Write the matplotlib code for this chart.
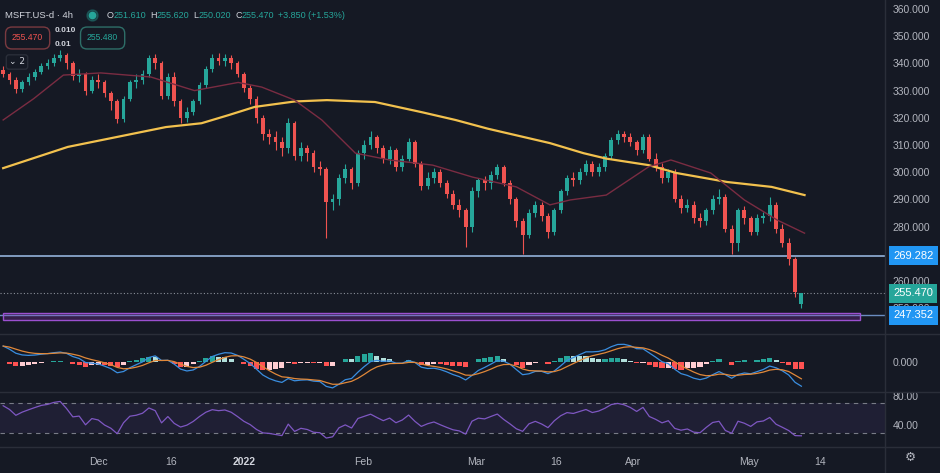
import numpy as np
import matplotlib.pyplot as plt
from matplotlib.patches import Rectangle
from matplotlib.lines import Line2D

# candles (one bar here ~ one trading day)
opens = [337.5, 336, 334, 330.5, 333, 335, 337, 339, 340, 342,
         343, 340, 335.5, 336, 330, 334, 333, 329, 326, 319.5,
         327, 333, 334, 336, 342, 340, 328, 335, 326, 320,
         322, 326, 332, 338, 342, 341, 342, 340, 336, 331,
         327, 320, 314, 313, 311, 309, 318, 306, 309, 307,
         302, 301, 289, 290, 298, 301, 296, 307, 310, 313,
         309, 305, 308, 302, 305, 311, 303, 295, 298, 300,
         296, 292, 288, 286, 280, 293, 297, 296, 299, 302,
         296, 290, 282, 277, 285, 288, 284, 278, 286, 293,
         298, 297, 300, 303, 300, 302, 306, 312, 314, 313,
         311, 308, 313, 305, 302, 298, 300, 290, 287, 288,
         283, 282, 286, 290, 291, 279, 274, 286, 283, 278,
         283, 284, 288, 279, 274, 268, 251.61]
closes = [336, 334, 330.5, 333, 335, 337, 339, 340, 342, 343,
          340, 335.5, 336, 330, 334, 333, 329, 326, 319.5, 327,
          333, 334, 336, 342, 340, 328, 335, 326, 320, 322,
          326, 332, 338, 342, 341, 342, 340, 336, 331, 327,
          320, 314, 313, 311, 309, 318, 306, 309, 307, 302,
          301, 289, 290, 298, 301, 296, 307, 310, 313, 309,
          305, 308, 302, 305, 311, 303, 295, 298, 300, 296,
          292, 288, 286, 280, 293, 297, 296, 299, 302, 296,
          290, 282, 277, 285, 288, 284, 278, 286, 293, 298,
          297, 300, 303, 300, 302, 306, 312, 314, 313, 311,
          308, 313, 305, 302, 298, 300, 290, 287, 288, 283,
          282, 286, 290, 291, 279, 274, 286, 283, 278, 283,
          284, 288, 279, 274, 268, 256, 255.47]
highs = [339, 337, 335, 334, 336.5, 338, 340, 341.5, 343.5, 345,
         344, 341, 338, 337, 335.5, 336, 334, 330, 327, 328,
         334, 336, 337.5, 343, 343.5, 341, 336.5, 337, 327, 324,
         327, 333, 339, 343.5, 344, 343.5, 343, 341, 337, 332,
         328, 321, 316, 315, 313, 320, 319, 311, 310, 308,
         304, 302, 292, 299.5, 303, 302, 308, 312, 315, 313.5,
         310, 309.5, 309, 306.5, 312.5, 312, 304, 300, 301.5, 301,
         297, 293.5, 290, 287, 294.5, 298, 298.5, 300.5, 303, 302.5,
         297, 291, 283, 286.5, 289.5, 289, 285, 287, 294, 299,
         300, 301.5, 304.5, 304, 303.5, 307, 313, 315.5, 315, 314.5,
         312, 314, 314, 307, 303.5, 301, 301, 291.5, 290, 289.5,
         285, 287, 291.5, 294, 292, 280.5, 287, 287.5, 284, 284.5,
         285.5, 291, 289, 281, 276, 269, 255.62]
lows = [335, 332.5, 329, 329.5, 332, 334, 336, 338, 339, 341,
        338, 334, 333, 328.5, 329, 331, 327.5, 323, 318, 318.5,
        326, 331, 332.5, 335, 338, 327, 327, 324.5, 318, 318.5,
        321, 325, 331, 337, 339.5, 339, 338, 335, 329.5, 325,
        318, 312, 310.5, 308, 306, 307, 304.5, 304, 304, 300,
        299, 276, 286, 288, 296, 294, 295, 305, 308.5, 307,
        303.5, 303, 300.5, 300.5, 304, 302, 293.5, 294, 296, 294.5,
        290.5, 286.5, 283.5, 272.5, 278, 291, 293.5, 294, 297.5, 295,
        288.5, 280, 270, 276, 283.5, 282, 276, 277, 285, 291.5,
        295, 295.5, 299, 298.5, 298.5, 300.5, 305, 310.5, 311, 309.5,
        306.5, 307, 304, 300.5, 296, 296.5, 289, 285, 285.5, 281.5,
        280, 280.5, 284.5, 288.5, 278, 270, 271, 281, 277, 277,
        281.5, 282, 277.5, 272.5, 266, 254, 250.02]

# moving averages, read at a few bars
ma200_idx = [0, 10.2, 25.7, 31.3, 35.6, 39.7, 46, 51.1, 58.7, 66.2,
             71.4, 76.5, 86.3, 91.6, 95.2, 101.9, 106.3, 114.3, 121.3, 126.5]
ma200_val = [301.5, 309.3, 316.6, 318, 321, 324, 326, 326.5, 325.8, 322,
             319.2, 316, 310.7, 307, 305, 302.6, 299.7, 296.4, 294.6, 291.6]
ma50_idx = [0, 4.8, 9.5, 15.4, 23.3, 30.2, 37.1, 40.8, 46, 50.3, 55.6, 61,
            67.8, 74.1, 81, 86.3, 89.5, 95.2, 101.9, 105.4, 111.7, 117, 122.2, 126.5]
ma50_val = [319.2, 327, 335.7, 336.5, 335, 330, 333, 331.3, 326.5, 319.2, 307, 304.5,
            302.6, 298.2, 294.6, 288, 289.8, 291.6, 302, 304.5, 299.7, 289.8, 282.4, 277.6]

date_labels = ["Dec", "16", "2022", "Feb", "Mar", "16", "Apr", "May", "14"]
date_idx = [15.1, 26.5, 38.1, 56.8, 74.6, 87.3, 99.5, 117.8, 129.0]
# 270 sits behind the 269.282 label, so the axis does not print it
price_ticks = [250, 260, 280, 290, 300, 310, 320, 330, 340, 350, 360]

resistance = 269.282
support = 247.352
last_price = 255.470
zone_low, zone_high = 245.7, 248.4

# state of the indicators at the first bar (history before the visible range)
ema_fast0, ema_slow0 = 336.0, 330.0
rsi_gain0, rsi_loss0 = 2.0, 1.0

bg = "#151924"
sep = "#2a2e39"
txt = "#b2b5be"
up, down = "#26a69a", "#ef5350"
plt.rcParams["font.family"] = ["Liberation Sans", "DejaVu Sans"]


def ema(values, span, start):
    a = 2 / (span + 1)
    out, e = [], start
    for v in values:
        e = a * v + (1 - a) * e
        out.append(e)
    return np.array(out)


closes_a = np.array(closes)
macd = ema(closes_a, 6, ema_fast0) - ema(closes_a, 13, ema_slow0)
signal = ema(macd, 5, macd[0])
hist = macd - signal

rsi = []
g, l = rsi_gain0, rsi_loss0
prev = closes[0]
for cl in closes:
    d = cl - prev
    prev = cl
    g = (g * 9 + max(d, 0)) / 10
    l = (l * 9 + max(-d, 0)) / 10
    rsi.append(100 - 100 / (1 + g / l))

W, H = 940, 473
fig = plt.figure(figsize=(W / 100, H / 100), dpi=100)
fig.patch.set_facecolor(bg)

right = 885 / W
ax1 = fig.add_axes([0, 1 - 333 / H, right, 333 / H])
ax2 = fig.add_axes([0, 1 - 391 / H, right, 56 / H])
ax3 = fig.add_axes([0, 1 - 446 / H, right, 54 / H])

n = len(closes)
x = np.arange(n)
for ax in (ax1, ax2, ax3):
    ax.set_facecolor(bg)
    ax.set_xlim(-0.5, 139.2)
    for s in ax.spines.values():
        s.set_visible(False)
    ax.yaxis.tick_right()
    ax.tick_params(axis="y", length=0, pad=5.5, labelsize=7.5, labelcolor=txt)
    ax.tick_params(axis="x", length=0)
    ax.set_xticks([])

# ---- price panel
ax1.set_ylim(240.9, 363.3)
cols = [up if cl >= op else down for op, cl in zip(opens, closes)]
ax1.vlines(x, lows, highs, colors=cols, lw=0.8, zorder=3)
bodies = [max(abs(cl - op), 0.35) for op, cl in zip(opens, closes)]
ax1.bar(x, bodies, bottom=np.minimum(opens, closes), width=0.6, color=cols, zorder=4)

ax1.plot(ma200_idx, ma200_val, color="#f2c14e", lw=1.6, zorder=5)
ax1.plot(ma50_idx, ma50_val, color="#7a2c42", lw=1.0, zorder=5)

ax1.axhline(resistance, color="#8aa6cc", lw=1.3, zorder=2)
ax1.axhline(last_price, color="#8b909a", lw=0.8, ls=(0, (1, 2)), zorder=2)
ax1.axhline(support, color="#6a8cc0", lw=1.0, zorder=2)
ax1.add_patch(Rectangle((0, zone_low), 135.2, zone_high - zone_low,
                        fc=(0.6, 0.2, 0.75, 0.25), ec="#9b50d0", lw=1.0, zorder=3))

ax1.set_yticks(price_ticks)
ax1.set_yticklabels([f"{p:.3f}" for p in price_ticks])

ytr = ax1.get_yaxis_transform()
for val, fc in [(resistance, "#2196f3"), (last_price, "#26a69a"), (support, "#2196f3")]:
    ax1.text(1 + 8 / 885, val, f"{val:.3f}", transform=ytr, ha="left", va="center",
             fontsize=8, color="white", clip_on=False, zorder=20,
             bbox=dict(boxstyle="square,pad=0.4", fc=fc, ec="none"))

# ---- MACD panel
hcols = []
for i, h in enumerate(hist):
    hp = hist[i - 1] if i else 0
    if h >= 0:
        hcols.append("#26a69a" if h >= hp else "#b2dfdb")
    else:
        hcols.append("#ff5252" if h < hp else "#ffcdd2")
ax2.bar(x, hist, width=0.8, color=hcols, zorder=2)
ax2.plot(x, macd, color="#3a8ee0", lw=0.9, zorder=3)
ax2.plot(x, signal, color="#e0883a", lw=0.9, zorder=3)
m = max(abs(macd.min()), abs(macd.max())) * 1.12
ax2.set_ylim(-m, m * 27 / 29)
ax2.set_yticks([0])
ax2.set_yticklabels(["0.000"])

# ---- RSI panel
ax3.set_ylim(12, 85.3)
ax3.axhspan(30, 70, color="#7e57c2", alpha=0.1, lw=0)
ax3.axhline(70, color="#787b86", lw=0.8, ls=(0, (4, 4)))
ax3.axhline(30, color="#787b86", lw=0.8, ls=(0, (4, 4)))
ax3.plot(x, rsi, color="#7e57c2", lw=0.9)
ax3.set_yticks([40, 80])
ax3.set_yticklabels(["40.00", "80.00"])
ax3.set_xticks(date_idx)
ax3.set_xticklabels(date_labels)
ax3.tick_params(axis="x", labelsize=7.5, labelcolor=txt, pad=8)
for lab in ax3.get_xticklabels():
    if lab.get_text() == "2022":
        lab.set_fontweight("bold")
        lab.set_color("#d1d4dc")

# ---- separators
for yy in (333.5, 391.5, 446.5):
    fig.add_artist(Line2D([0, 1], [1 - yy / H] * 2, transform=fig.transFigure, color=sep, lw=1))
fig.add_artist(Line2D([right, right], [0, 1], transform=fig.transFigure, color=sep, lw=1))


def ftext(px, py, s, **kw):
    return fig.text(px / W, 1 - py / H, s, va="center", **kw)


# ---- header, laid out left to right
renderer = fig.canvas.get_renderer()
ftext(5, 15, "MSFT.US-d · 4h", color="#d1d4dc", fontsize=6.8)
fig.add_artist(Line2D([92 / W], [1 - 15 / H], marker="o", ms=8, color="#26a69a",
                      alpha=0.3, transform=fig.transFigure))
fig.add_artist(Line2D([92 / W], [1 - 15 / H], marker="o", ms=4.5, color="#26a69a",
                      transform=fig.transFigure))
parts = [("O", "#d1d4dc", 0), ("251.610", up, 4), ("H", "#d1d4dc", 0), ("255.620", up, 4),
         ("L", "#d1d4dc", 0), ("250.020", up, 4), ("C", "#d1d4dc", 0), ("255.470", up, 4),
         ("+3.850 (+1.53%)", up, 0)]
px = 107
for s, col, gap in parts:
    t = ftext(px, 15, s, color=col, fontsize=6.5)
    px += t.get_window_extent(renderer).width + gap

ftext(12, 38, "255.470", color="#ef5350", fontsize=6.2,
      bbox=dict(boxstyle="round,pad=0.75", fc=bg, ec="#7a3a40", lw=1))
ftext(55, 31, "0.010", color="#d1d4dc", fontsize=6, fontweight="bold")
ftext(55, 44, "0.01", color="#d1d4dc", fontsize=6, fontweight="bold")
ftext(87, 38, "255.480", color="#26a69a", fontsize=6.2,
      bbox=dict(boxstyle="round,pad=0.75", fc=bg, ec="#2e6e68", lw=1))
ftext(9, 62, "⌄ 2", color="#d1d4dc", fontsize=6.5, family=["DejaVu Sans"],
      bbox=dict(boxstyle="round,pad=0.3", fc=bg, ec="#2a2e39", lw=1))
ftext(905, 457, "⚙", color=txt, fontsize=9, family=["DejaVu Sans"])

fig.savefig("out.png", dpi=100, facecolor=bg)
